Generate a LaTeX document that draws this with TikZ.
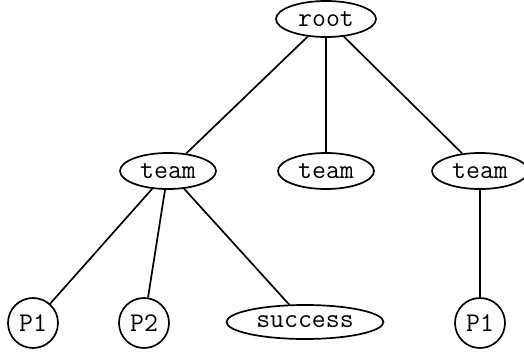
\documentclass[tikz,border=0pt]{standalone}
\usetikzlibrary{shapes.geometric}
\begin{document}
\begin{tikzpicture}[x=1pt,y=-1pt,
  lbl/.style={font=\ttfamily\fontsize{27}{31}\selectfont, draw, line width=1.7pt, inner sep=0pt},
  oval/.style={lbl, ellipse, minimum height=36pt},
  leaf/.style={lbl, circle, minimum size=50pt},
  link/.style={line width=1.7pt}]
\useasboundingbox (0,0) rectangle (524,352);
\node[oval, minimum width=100pt] (root) at (326,19) {root};
\node[oval, minimum width=96pt] (t1) at (168,171) {team};
\node[oval, minimum width=96pt] (t2) at (326,171) {team};
\node[oval, minimum width=96pt] (t3) at (480,171) {team};
\node[leaf] (p1) at (33,323) {P1};
\node[leaf] (p2) at (144,323) {P2};
\node[oval, minimum width=157pt, minimum height=34pt] (s) at (305,322) {success};
\node[leaf] (p1b) at (480,323) {P1};
\draw[link] (root) -- (t1);
\draw[link] (root) -- (t2);
\draw[link] (root) -- (t3);
\draw[link] (t1) -- (p1);
\draw[link] (t1) -- (p2);
\draw[link] (t1) -- (s);
\draw[link] (t3) -- (p1b);
\end{tikzpicture}
\end{document}
